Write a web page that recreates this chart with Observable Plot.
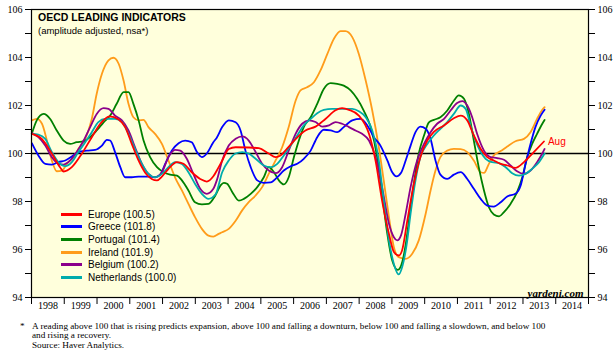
<!DOCTYPE html>
<html><head><meta charset="utf-8">
<script src="https://cdn.jsdelivr.net/npm/d3@7"></script>
<script src="https://cdn.jsdelivr.net/npm/@observablehq/plot@0.6"></script>
<style>
body{margin:0;background:#fff;}
#wrap{position:relative;width:616px;height:350px;overflow:hidden;}
#legend{position:absolute;left:61px;top:208px;font:10px Arial,"Liberation Sans",sans-serif;color:#000;}
.row{height:12.6px;display:flex;align-items:center;white-space:nowrap;}
.sw{display:inline-block;width:21px;height:3px;margin-right:6px;}
#foot{position:absolute;left:32px;top:322px;font:9.2px "Liberation Serif","Times New Roman",serif;line-height:9.3px;white-space:nowrap;}
#foot .ast{position:absolute;left:-12px;top:0;}
</style>
</head><body>
<div id="wrap"><div id="chart"></div><div id="legend"></div><div id="foot"></div></div>
<script>
const names = ["Europe","Greece","Portugal","Ireland","Belgium","Netherlands"];
const legendLabels = ["Europe (100.5)","Greece (101.8)","Portugal (101.4)","Ireland (101.9)","Belgium (100.2)","Netherlands (100.0)"];
const yearLabels = [1998,1999,2000,2001,2002,2003,2004,2005,2006,2007,2008,2009,2010,2011,2012,2013,2014];
const yTicks = [94,95,96,97,98,99,100,101,102,103,104,105,106];

const europe = [[1998.01,100.82],[1998.32,100.6],[1998.62,100.0],[1998.87,99.43],[1998.98,99.25],[1999.23,99.43],[1999.54,100.0],[1999.84,100.68],[2000.10,101.24],[2000.38,101.55],[2000.66,101.42],[2000.86,101.1],[2001.06,100.4],[2001.27,99.7],[2001.47,99.2],[2001.67,98.94],[2001.83,98.88],[2001.98,99.04],[2002.18,99.36],[2002.44,99.64],[2002.64,99.57],[2002.89,99.22],[2003.15,98.94],[2003.35,98.83],[2003.55,99.05],[2003.70,99.4],[2003.82,99.7],[2004.02,100.19],[2004.23,100.26],[2004.63,100.25],[2004.94,100.22],[2005.24,100.0],[2005.45,99.85],[2005.60,99.92],[2005.80,100.2],[2006.06,100.6],[2006.36,100.96],[2006.67,101.12],[2006.97,101.44],[2007.28,101.8],[2007.48,101.89],[2007.69,101.82],[2007.99,101.58],[2008.30,100.82],[2008.50,99.7],[2008.70,98.04],[2008.91,96.65],[2009.06,95.9],[2009.21,95.75],[2009.31,95.96],[2009.47,97.2],[2009.67,98.74],[2009.87,99.85],[2010.08,100.54],[2010.28,100.9],[2010.59,101.17],[2010.89,101.47],[2011.10,101.58],[2011.30,101.38],[2011.50,100.75],[2011.71,100.19],[2011.91,99.85],[2012.11,99.71],[2012.32,99.57],[2012.52,99.5],[2012.77,99.4],[2013.03,99.64],[2013.33,100.06],[2013.64,100.5]];
const greece = [[1998.01,100.43],[1998.21,99.92],[1998.42,99.57],[1998.62,99.54],[1998.82,99.64],[1999.03,99.71],[1999.23,99.87],[1999.43,100.06],[1999.69,100.12],[1999.94,100.15],[2000.15,100.33],[2000.30,100.57],[2000.40,100.54],[2000.55,100.06],[2000.71,99.43],[2000.86,99.01],[2001.06,99.01],[2001.27,99.04],[2001.57,99.04],[2001.77,99.01],[2001.93,99.12],[2002.08,99.57],[2002.28,100.12],[2002.49,100.43],[2002.69,100.54],[2002.89,100.47],[2003.05,100.06],[2003.20,99.85],[2003.35,100.0],[2003.55,100.47],[2003.65,100.65],[2003.82,101.1],[2004.02,101.38],[2004.23,101.3],[2004.38,100.96],[2004.53,100.12],[2004.69,99.43],[2004.89,98.88],[2005.09,98.78],[2005.30,98.8],[2005.50,99.01],[2005.70,99.29],[2005.91,99.47],[2006.11,99.57],[2006.31,99.78],[2006.52,100.12],[2006.72,100.68],[2006.92,100.99],[2007.13,100.96],[2007.33,100.89],[2007.53,101.1],[2007.79,101.38],[2008.04,101.44],[2008.25,101.17],[2008.45,100.68],[2008.65,100.33],[2008.86,99.71],[2009.01,99.22],[2009.14,99.05],[2009.28,99.2],[2009.42,99.71],[2009.57,100.33],[2009.72,100.89],[2009.87,101.12],[2010.03,101.03],[2010.18,100.61],[2010.33,99.71],[2010.48,99.12],[2010.69,98.94],[2010.89,99.12],[2011.10,99.22],[2011.30,98.94],[2011.50,98.53],[2011.71,98.11],[2011.91,97.83],[2012.11,97.79],[2012.32,97.97],[2012.52,98.21],[2012.77,98.32],[2012.93,98.67],[2013.08,99.57],[2013.23,100.4],[2013.38,101.1],[2013.54,101.58],[2013.66,101.82]];
const portugal = [[1998.01,100.82],[1998.16,101.38],[1998.37,101.65],[1998.57,101.44],[1998.77,100.96],[1998.98,100.54],[1999.18,100.4],[1999.38,100.47],[1999.59,100.51],[1999.79,100.68],[1999.99,100.96],[2000.20,101.3],[2000.40,101.58],[2000.60,102.07],[2000.81,102.56],[2000.96,102.56],[2001.11,102.07],[2001.27,101.38],[2001.42,100.54],[2001.62,99.85],[2001.83,99.43],[2002.03,99.22],[2002.23,99.12],[2002.44,99.08],[2002.59,98.88],[2002.79,98.46],[2002.99,97.97],[2003.20,97.88],[2003.40,97.9],[2003.61,98.25],[2003.77,98.67],[2003.87,98.78],[2003.97,98.74],[2004.13,98.39],[2004.33,98.04],[2004.48,98.11],[2004.69,98.32],[2004.89,98.6],[2005.09,99.01],[2005.24,99.43],[2005.40,99.22],[2005.55,98.88],[2005.70,98.71],[2005.85,99.01],[2006.01,99.85],[2006.16,100.54],[2006.31,101.1],[2006.52,101.51],[2006.72,102.07],[2006.92,102.69],[2007.13,102.93],[2007.33,102.9],[2007.53,102.83],[2007.74,102.63],[2007.94,102.28],[2008.14,101.79],[2008.35,101.1],[2008.55,99.85],[2008.70,98.32],[2008.86,96.65],[2009.01,95.54],[2009.18,95.15],[2009.32,95.5],[2009.42,96.2],[2009.52,97.2],[2009.67,98.74],[2009.82,100.0],[2009.98,100.75],[2010.13,101.3],[2010.28,101.4],[2010.48,101.51],[2010.69,101.79],[2010.89,102.2],[2011.04,102.42],[2011.20,102.28],[2011.35,101.65],[2011.50,100.54],[2011.65,99.43],[2011.81,98.46],[2011.96,97.76],[2012.11,97.46],[2012.27,97.38],[2012.42,97.56],[2012.62,97.9],[2012.82,98.39],[2012.98,99.01],[2013.13,99.85],[2013.28,100.4],[2013.43,100.82],[2013.59,101.24],[2013.66,101.4]];
const ireland = [[1998.01,101.38],[1998.16,101.44],[1998.32,101.24],[1998.47,100.54],[1998.62,99.71],[1998.77,99.26],[1998.93,99.29],[1999.08,99.57],[1999.28,99.85],[1999.43,100.19],[1999.64,100.61],[1999.84,101.44],[1999.99,102.49],[2000.15,103.32],[2000.35,103.88],[2000.50,103.99],[2000.66,103.74],[2000.81,103.04],[2000.96,102.07],[2001.11,101.51],[2001.27,101.38],[2001.42,101.4],[2001.57,101.1],[2001.77,100.82],[2001.98,100.4],[2002.18,99.71],[2002.38,99.01],[2002.59,98.46],[2002.79,97.9],[2002.99,97.35],[2003.20,96.86],[2003.40,96.58],[2003.55,96.54],[2003.71,96.65],[2003.82,96.72],[2004.02,96.86],[2004.23,97.2],[2004.43,97.63],[2004.63,97.97],[2004.84,98.25],[2005.04,98.6],[2005.24,99.15],[2005.45,99.71],[2005.65,100.26],[2005.85,101.1],[2006.06,102.2],[2006.21,102.63],[2006.41,102.76],[2006.62,102.97],[2006.82,103.46],[2007.03,104.15],[2007.23,104.78],[2007.43,105.1],[2007.58,105.1],[2007.79,104.85],[2007.99,104.15],[2008.20,103.04],[2008.40,101.79],[2008.60,100.26],[2008.75,98.88],[2008.91,97.35],[2009.06,96.1],[2009.21,95.68],[2009.42,95.61],[2009.62,95.82],[2009.82,96.38],[2010.03,97.49],[2010.18,98.46],[2010.33,99.29],[2010.48,99.85],[2010.69,100.12],[2010.89,100.19],[2011.10,100.18],[2011.30,100.06],[2011.50,99.71],[2011.71,99.22],[2011.81,99.19],[2011.96,99.57],[2012.11,99.92],[2012.32,100.1],[2012.52,100.29],[2012.77,100.51],[2013.03,100.61],[2013.23,100.89],[2013.43,101.44],[2013.59,101.82],[2013.66,101.93]];
const belgium = [[1998.01,100.85],[1998.21,100.68],[1998.42,100.33],[1998.62,99.85],[1998.82,99.57],[1998.98,99.54],[1999.18,99.71],[1999.38,100.06],[1999.59,100.54],[1999.79,101.1],[1999.99,101.65],[2000.20,101.89],[2000.35,101.86],[2000.55,101.58],[2000.76,101.38],[2000.96,100.96],[2001.16,100.26],[2001.37,99.57],[2001.57,99.15],[2001.77,99.01],[2001.98,99.22],[2002.18,99.85],[2002.38,100.15],[2002.54,100.12],[2002.74,99.78],[2002.94,99.15],[2003.15,98.53],[2003.35,98.32],[2003.55,98.53],[2003.66,98.9],[2003.82,99.71],[2004.02,100.33],[2004.23,100.61],[2004.43,100.71],[2004.63,100.54],[2004.84,100.06],[2005.04,99.57],[2005.24,99.29],[2005.45,99.18],[2005.65,99.43],[2005.85,100.12],[2006.06,100.82],[2006.26,101.24],[2006.47,101.38],[2006.67,101.31],[2006.87,101.12],[2007.08,101.17],[2007.28,101.31],[2007.48,101.24],[2007.69,101.1],[2007.89,100.96],[2008.09,100.82],[2008.30,100.54],[2008.50,99.85],[2008.70,98.6],[2008.91,97.07],[2009.06,96.51],[2009.16,96.38],[2009.28,96.6],[2009.42,97.49],[2009.57,98.6],[2009.77,99.71],[2009.98,100.4],[2010.18,100.89],[2010.38,101.24],[2010.59,101.44],[2010.79,101.79],[2010.99,102.1],[2011.15,102.18],[2011.30,102.0],[2011.45,101.51],[2011.60,100.82],[2011.81,100.12],[2012.01,99.85],[2012.21,99.81],[2012.42,99.74],[2012.62,99.5],[2012.82,99.26],[2013.03,99.15],[2013.23,99.29],[2013.43,99.64],[2013.59,100.0],[2013.66,100.19]];
const netherlands = [[1998.01,100.82],[1998.21,100.79],[1998.42,100.61],[1998.62,100.06],[1998.82,99.64],[1999.03,99.47],[1999.23,99.64],[1999.43,100.06],[1999.64,100.47],[1999.84,100.89],[2000.04,101.31],[2000.25,101.44],[2000.55,101.44],[2000.76,101.31],[2000.96,100.82],[2001.16,100.19],[2001.37,99.57],[2001.57,99.15],[2001.77,99.01],[2001.98,99.15],[2002.18,99.43],[2002.38,99.64],[2002.59,99.57],[2002.79,99.22],[2002.99,98.74],[2003.20,98.32],[2003.40,98.11],[2003.62,98.3],[2003.82,99.22],[2004.02,99.71],[2004.23,100.0],[2004.43,100.06],[2004.63,100.0],[2004.84,99.78],[2005.09,99.5],[2005.30,99.43],[2005.50,99.57],[2005.70,99.92],[2005.91,100.33],[2006.11,100.75],[2006.31,101.17],[2006.52,101.44],[2006.72,101.68],[2006.92,101.82],[2007.18,101.86],[2007.48,101.86],[2007.79,101.86],[2007.99,101.76],[2008.20,101.51],[2008.40,100.96],[2008.60,99.71],[2008.75,98.04],[2008.91,96.38],[2009.06,95.4],[2009.21,94.96],[2009.32,95.3],[2009.45,96.2],[2009.57,97.49],[2009.72,98.88],[2009.87,99.85],[2010.08,100.4],[2010.28,100.75],[2010.48,101.03],[2010.69,101.31],[2010.89,101.65],[2011.10,102.0],[2011.25,101.86],[2011.40,101.17],[2011.55,100.54],[2011.71,100.06],[2011.86,99.78],[2012.06,99.64],[2012.27,99.6],[2012.47,99.43],[2012.67,99.18],[2012.88,99.08],[2013.08,99.15],[2013.28,99.36],[2013.49,99.64],[2013.66,100.0]];

const seriesData = [europe, greece, portugal, ireland, belgium, netherlands];
const colors = ["#ff0000","#0000ff","#008000","#ff9c1a","#8b008b","#00acac"];
const footLines = ["A reading above 100 that is rising predicts expansion, above 100 and falling a downturn, below 100 and falling a slowdown, and below 100","and rising a recovery.","Source: Haver Analytics."];

// draw order: Ireland, Portugal, Greece, Belgium, Netherlands, Europe (Europe on top)
const drawOrder = [3,2,1,4,5,0];
const rows = drawOrder.flatMap(i => seriesData[i].map(([t, v]) => ({country: names[i], t, v})));

const serif = '"Liberation Serif","Times New Roman",serif';
const sans = 'Arial,"Liberation Sans",sans-serif';

const chart = Plot.plot({
  width: 616, height: 318,
  marginLeft: 31, marginRight: 28, marginTop: 9, marginBottom: 21,
  style: {fontFamily: serif, fontSize: "10px", background: "white", color: "black"},
  x: {domain: [1998, 2015]},
  y: {domain: [94, 106]},
  color: {domain: names, range: colors},
  marks: [
    Plot.frame({fill: "#ffffdc", stroke: null}),
    Plot.ruleY([100], {stroke: "black", strokeWidth: 1.3}),
    Plot.line(rows, {x: "t", y: "v", z: "country", stroke: "country", strokeWidth: 1.8, curve: "monotone-x"}),
    Plot.text([europe[europe.length - 1]], {x: d => d[0], y: d => d[1], text: () => "Aug", dx: 4, textAnchor: "start", fill: "#ff0000", fontFamily: sans, fontSize: 10}),
    Plot.text(["OECD LEADING INDICATORS"], {frameAnchor: "top-left", dx: 6.5, dy: 4.3, lineAnchor: "top", fontFamily: sans, fontWeight: "bold", fontSize: 10.5}),
    Plot.text(["(amplitude adjusted, nsa*)"], {frameAnchor: "top-left", dx: 6.5, dy: 17.5, lineAnchor: "top", fontFamily: sans, fontSize: 9.5}),
    Plot.text(["yardeni.com"], {frameAnchor: "bottom-right", dx: -5, dy: -1, lineAnchor: "bottom", textAnchor: "end", fontFamily: serif, fontStyle: "italic", fontWeight: "bold", fontSize: 11}),
    Plot.axisY({anchor: "left", ticks: yTicks, tickSize: 6, tickPadding: 3, tickFormat: d => d % 2 === 0 ? String(d) : "", label: null}),
    Plot.axisY({anchor: "right", ticks: yTicks, tickSize: 6, tickPadding: 3, tickFormat: d => d % 2 === 0 ? String(d) : "", label: null}),
    Plot.axisX({ticks: [...yearLabels, 2015], tickSize: 7, tickFormat: () => "", label: null}),
    Plot.axisX({ticks: yearLabels.map(y => y + 0.5), tickSize: 0, tickPadding: 4, tickFormat: d => String(Math.floor(d)), label: null}),
    Plot.frame({stroke: "black", strokeWidth: 1.2})
  ]
});
document.getElementById("chart").appendChild(chart);

const legend = document.getElementById("legend");
legendLabels.forEach((lab, i) => {
  const r = document.createElement("div"); r.className = "row";
  const s = document.createElement("span"); s.className = "sw"; s.style.background = colors[i];
  r.appendChild(s); r.appendChild(document.createTextNode(lab));
  legend.appendChild(r);
});
const foot = document.getElementById("foot");
const ast = document.createElement("span"); ast.className = "ast"; ast.textContent = "*"; foot.appendChild(ast);
footLines.forEach(t => { const d = document.createElement("div"); d.textContent = t; foot.appendChild(d); });
</script>
</body></html>
